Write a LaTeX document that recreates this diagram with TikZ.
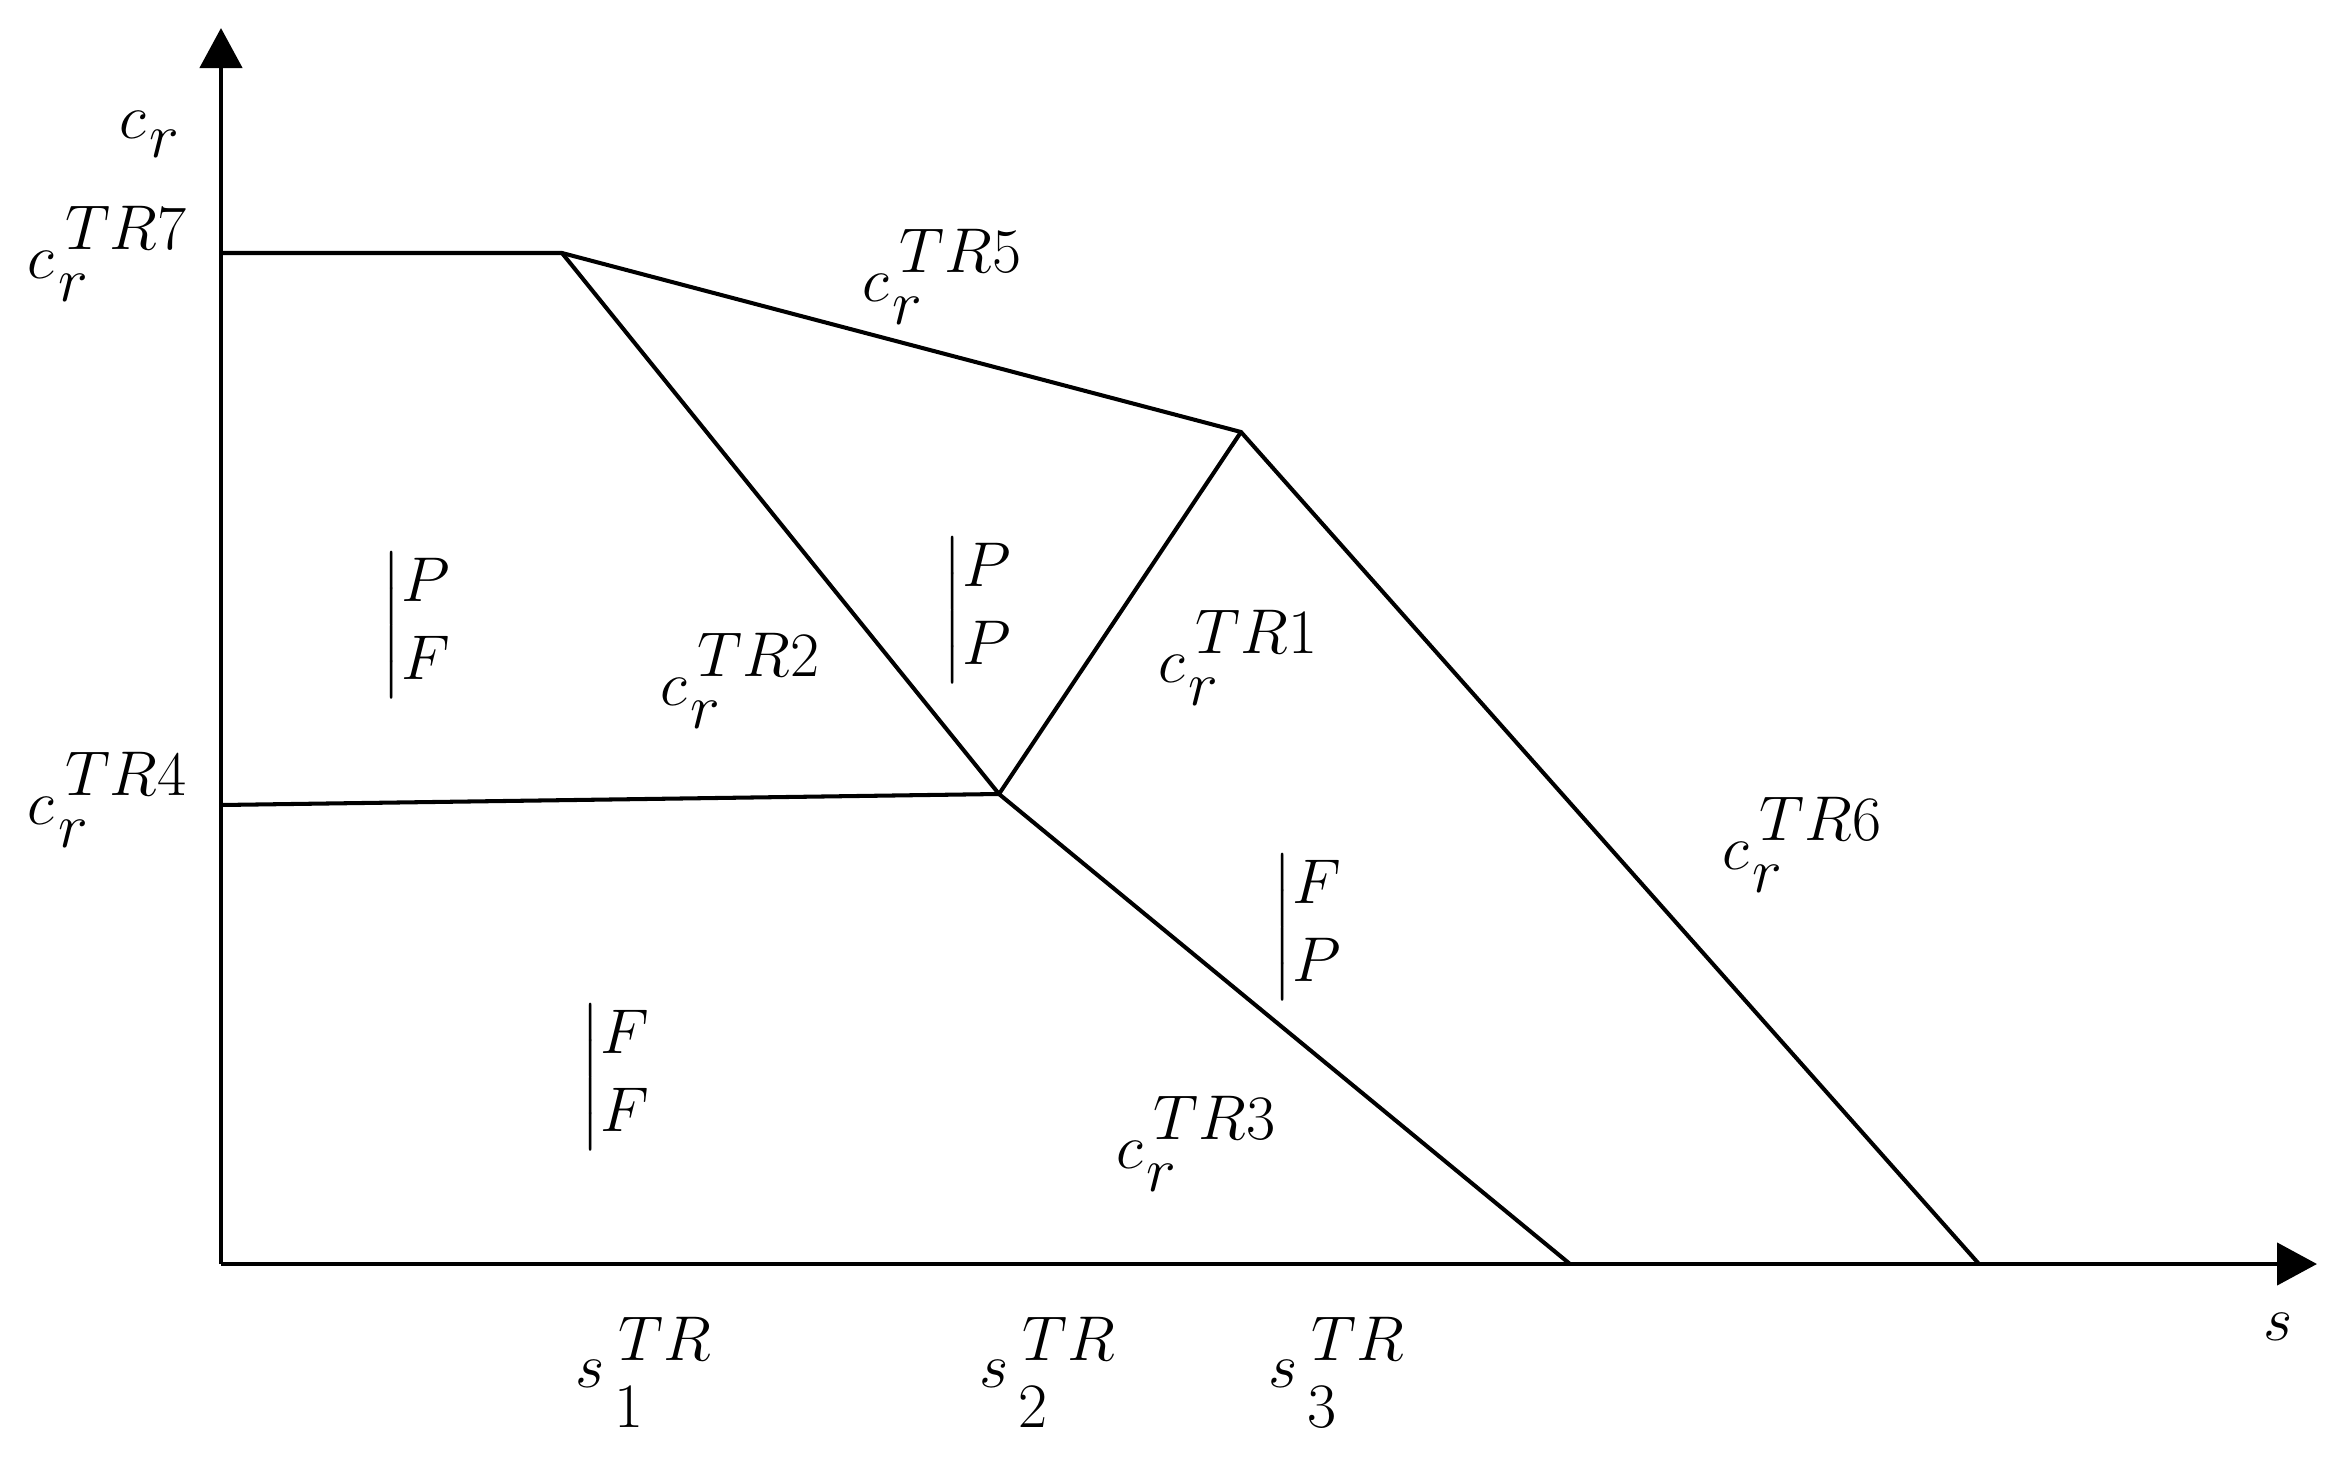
\RequirePackage{fix-cm}
\documentclass[tikz,border=0pt]{standalone}
\usepackage{amsmath}
\usetikzlibrary{arrows.meta}

% labels with full size scripts
\newcommand{\cTR}[1]{$c\mkern1mu\rlap{\raisebox{-0.37em}{$r$}}\mkern2mu\raisebox{0.46em}{$TR#1$}$}
\newcommand{\sTR}[1]{$s\mkern3mu\rlap{\raisebox{-0.62em}{$#1$}}\mkern1mu\raisebox{0.44em}{$TR$}$}
\newcommand{\pair}[2]{$\left|\begin{matrix}#1\\#2\end{matrix}\right.$}

\begin{document}
\begin{tikzpicture}[
    every node/.style={font=\fontsize{18}{22}\selectfont, inner sep=1pt},
    axis/.style={line width=1.3pt, -{Triangle[length=0.4cm, width=0.42cm]}},
    border/.style={line width=1.15pt, line join=miter}
  ]
    \useasboundingbox (-2.21,-2.01) rectangle (21.25,12.64);

    % Axes
    \coordinate (O) at (0,0);
    \coordinate (ytip) at (0,12.36);
    \coordinate (xtip) at (20.96,0);
    \draw[axis] (O) -- (ytip);
    \draw[axis] (O) -- (xtip);

    % Corner points of the regions
    \coordinate (c7) at (0,10.11);
    \coordinate (c4) at (0,4.59);
    \coordinate (k1) at (3.41,10.11);
    \coordinate (k2) at (10.20,8.32);
    \coordinate (m) at (7.78,4.70);
    \coordinate (b1) at (13.49,0);
    \coordinate (b2) at (17.58,0);

    % Region borders
    \draw[border] (c7) -- (k1) -- (k2) -- (b2);
    \draw[border] (k1) -- (m) -- (b1);
    \draw[border] (k2) -- (m);
    \draw[border] (c4) -- (m);

    % Axis labels
    \node (ylab) at (-0.72,11.30) {$c\mkern1mu\raisebox{-0.3em}{$r$}$};
    \node (xlab) at (20.57,-0.63) {$s$};
    \node[anchor=east] (l7) at (-0.30,10.10) {\cTR{7}};
    \node[anchor=east] (l4) at (-0.30,4.64) {\cTR{4}};
    \node (s1) at (4.22,-1.08) {\sTR{1}};
    \node (s2) at (8.26,-1.08) {\sTR{2}};
    \node (s3) at (11.15,-1.08) {\sTR{3}};

    % Curve labels
    \node (l5) at (7.21,9.87) {\cTR{5}};
    \node (l2) at (5.19,5.83) {\cTR{2}};
    \node (l1) at (10.17,6.06) {\cTR{1}};
    \node (l6) at (15.81,4.19) {\cTR{6}};
    \node (l3) at (9.75,1.20) {\cTR{3}};

    % Region labels
    \node (rPF) at (1.97,6.39) {\pair{P}{F}};
    \node (rPP) at (7.58,6.54) {\pair{P}{P}};
    \node (rFP) at (10.88,3.37) {\pair{F}{P}};
    \node (rFF) at (3.96,1.87) {\pair{F}{F}};
\end{tikzpicture}
\end{document}
